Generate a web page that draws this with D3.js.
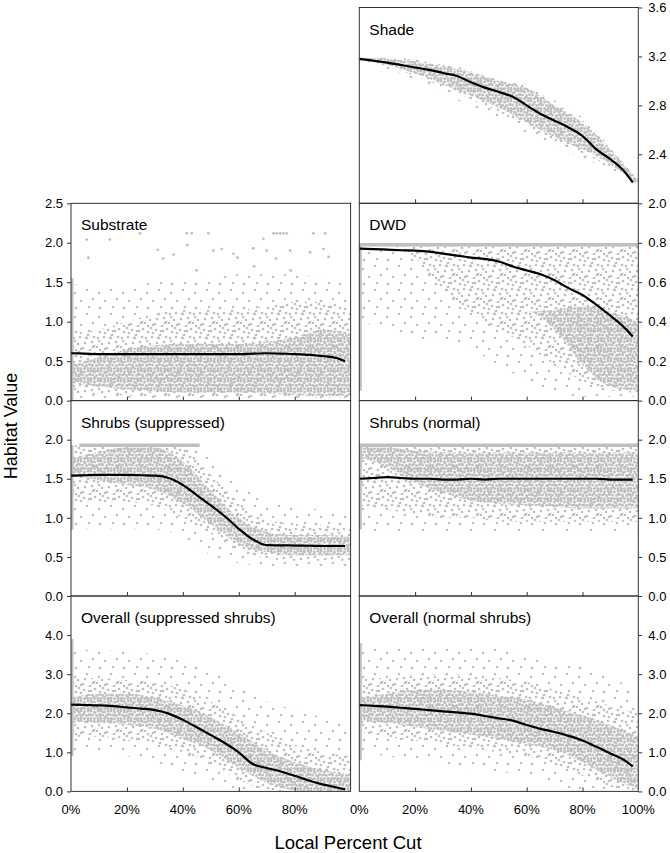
<!DOCTYPE html>
<html><head><meta charset="utf-8">
<script src="https://cdn.jsdelivr.net/npm/d3@7"></script>
<style>
body{margin:0;background:#fff}
svg{display:block}
text{font-family:"Liberation Sans",Arial,sans-serif;fill:#000}
</style>
</head><body>
<svg id="chart" width="670" height="853"></svg>
<script>
// ---------------- DATA ----------------
const gridX  = [0,10,20,30,40,50,60,70,80,90,100];           // % cut, cloud envelope positions
const trendX = [0,5,10,15,20,25,30,35,40,45,50,55,60,65,70,75,80,85,90,95,98];
const xTickValues = [0,20,40,60,80,100];

// Shade
const shadeTicks = [2.0,2.4,2.8,3.2,3.6];
const shadeTrend = [3.18,3.165,3.15,3.13,3.11,3.09,3.065,3.04,2.99,2.945,2.91,2.87,2.80,2.73,2.675,2.62,2.55,2.44,2.36,2.26,2.17];
const shadeSparseLo = [3.16,3.10,3.00,2.90,2.79,2.70,2.57,2.46,2.37,2.27,2.14];
const shadeSparseHi = [3.19,3.19,3.18,3.14,3.09,3.02,2.97,2.84,2.70,2.46,2.20];
const shadeMidLo    = [3.17,3.12,3.04,2.95,2.85,2.75,2.63,2.51,2.41,2.30,2.15];
const shadeMidHi    = [3.19,3.19,3.17,3.13,3.08,3.01,2.96,2.82,2.68,2.45,2.19];
const shadeDenseLo  = [3.17,3.13,3.06,2.97,2.88,2.78,2.66,2.54,2.44,2.32,2.15];
const shadeDenseHi  = [3.19,3.18,3.16,3.12,3.07,3.00,2.94,2.80,2.66,2.44,2.19];

// Substrate
const substrateTicks = [0.0,0.5,1.0,1.5,2.0,2.5];
const substrateTrend = [0.60,0.595,0.59,0.59,0.59,0.59,0.59,0.59,0.59,0.59,0.59,0.59,0.59,0.595,0.60,0.595,0.59,0.58,0.565,0.54,0.50];
const substrateSparseLo = [0.03,0.03,0.03,0.03,0.03,0.03,0.03,0.03,0.03,0.03,0.03];
const substrateSparseHi = [1.50,1.40,1.45,1.50,1.55,1.55,1.60,1.60,1.60,1.55,1.45];
const substrateMidLo    = [0.10,0.08,0.06,0.05,0.05,0.05,0.05,0.05,0.05,0.04,0.04];
const substrateMidHi    = [0.85,0.90,1.00,1.10,1.15,1.15,1.15,1.20,1.25,1.25,1.15];
const substrateDenseLo  = [0.22,0.18,0.14,0.12,0.10,0.10,0.10,0.09,0.07,0.06,0.06];
const substrateDenseHi  = [0.45,0.55,0.65,0.70,0.72,0.72,0.72,0.75,0.80,0.90,0.85];
const substrateOutX = [5.6,6.2,13.9,31,33,36.7,41.6,50.9,53.9,58.1,59.5,65.2,68.8,70,73.3,78.4,85.5,90.3,92.1,65.5,78.6,44.9,
                       24.7,41.4,43.2,49.1,72.4,73.6,74.8,76,77.2,86.7,90.9];
const substrateOutY = [2.04,1.81,2.04,1.91,1.80,1.85,1.97,1.90,1.92,1.86,1.81,1.93,2.05,1.90,1.80,1.90,1.88,1.92,1.82,1.70,1.65,1.65,
                       2.12,2.12,2.12,2.12,2.12,2.12,2.12,2.12,2.12,2.12,2.12];

// DWD
const dwdTicks = [0.0,0.2,0.4,0.6,0.8];
const dwdTrend = [0.77,0.768,0.765,0.762,0.76,0.755,0.745,0.735,0.725,0.718,0.705,0.68,0.66,0.64,0.61,0.57,0.535,0.485,0.43,0.37,0.325];
const dwdSparseLo = [0.40,0.36,0.32,0.30,0.26,0.18,0.10,0.04,0.02,0.02,0.02];
const dwdSparseHi = [0.79,0.79,0.79,0.79,0.79,0.79,0.79,0.79,0.79,0.79,0.79];
const dwdMidLo    = [0.79,0.79,0.72,0.56,0.44,0.36,0.28,0.18,0.10,0.05,0.04];
const dwdMidHi    = [0.79,0.79,0.79,0.79,0.79,0.79,0.79,0.79,0.79,0.79,0.79];
const dwdDenseLo  = [0.45,0.45,0.45,0.45,0.45,0.45,0.45,0.36,0.18,0.07,0.05];
const dwdDenseHi  = [0.45,0.45,0.45,0.45,0.45,0.45,0.45,0.46,0.48,0.45,0.40];

// Shrubs (suppressed)
const shrubsSTicks = [0.0,0.5,1.0,1.5,2.0];
const shrubsSTrend = [1.54,1.545,1.55,1.55,1.55,1.545,1.54,1.51,1.42,1.29,1.16,1.02,0.86,0.725,0.65,0.648,0.645,0.643,0.64,0.64,0.64];
const shrubsSSparseLo = [0.85,0.85,0.85,0.85,0.75,0.52,0.42,0.38,0.35,0.35,0.35];
const shrubsSSparseHi = [1.93,1.93,1.93,1.93,1.93,1.75,1.45,1.20,1.15,1.10,1.05];
const shrubsSMidLo    = [1.20,1.20,1.20,1.15,1.00,0.80,0.58,0.48,0.45,0.45,0.45];
const shrubsSMidHi    = [1.93,1.93,1.93,1.93,1.90,1.55,1.20,0.98,0.92,0.90,0.88];
const shrubsSDenseLo  = [1.55,1.48,1.42,1.36,1.18,0.92,0.66,0.56,0.52,0.52,0.52];
const shrubsSDenseHi  = [1.75,1.85,1.90,1.90,1.72,1.35,1.00,0.82,0.78,0.78,0.76];

// Shrubs (normal)
const shrubsNTicks = [0.0,0.5,1.0,1.5,2.0];
const shrubsNTrend = [1.50,1.51,1.52,1.51,1.50,1.50,1.49,1.49,1.50,1.49,1.50,1.50,1.50,1.50,1.50,1.50,1.50,1.50,1.49,1.49,1.49];
const shrubsNSparseLo = [0.82,0.82,0.82,0.82,0.82,0.82,0.82,0.82,0.82,0.82,0.82];
const shrubsNSparseHi = [1.93,1.93,1.93,1.93,1.93,1.93,1.93,1.93,1.93,1.93,1.93];
const shrubsNMidLo    = [1.15,1.10,1.05,1.00,1.00,0.95,0.95,0.95,0.95,0.95,0.95];
const shrubsNMidHi    = [1.93,1.93,1.93,1.93,1.93,1.93,1.93,1.93,1.93,1.93,1.93];
const shrubsNDenseLo  = [1.78,1.65,1.45,1.32,1.22,1.18,1.16,1.14,1.12,1.12,1.12];
const shrubsNDenseHi  = [1.90,1.90,1.86,1.84,1.84,1.84,1.84,1.84,1.84,1.84,1.84];

// Overall (suppressed shrubs)
const overallSTicks = [0.0,1.0,2.0,3.0,4.0];
const overallSTrend = [2.22,2.21,2.20,2.18,2.15,2.12,2.08,1.99,1.83,1.64,1.44,1.24,1.00,0.70,0.60,0.51,0.40,0.28,0.18,0.10,0.05];
const overallSSparseLo = [1.00,1.00,0.90,0.75,0.50,0.25,0.00,0.00,0.00,0.00,0.00];
const overallSSparseHi = [3.70,3.60,3.60,3.50,3.40,3.10,2.70,2.30,2.10,1.90,1.80];
const overallSMidLo    = [1.40,1.40,1.30,1.20,1.00,0.70,0.30,0.05,0.00,0.00,0.00];
const overallSMidHi    = [2.90,2.90,2.85,2.80,2.60,2.30,1.90,1.50,1.20,1.00,0.90];
const overallSDenseLo  = [1.80,1.75,1.70,1.60,1.35,1.05,0.60,0.22,0.03,0.00,0.00];
const overallSDenseHi  = [2.40,2.50,2.50,2.40,2.20,1.90,1.50,1.05,0.75,0.55,0.45];

// Overall (normal shrubs)
const overallNTicks = [0.0,1.0,2.0,3.0,4.0];
const overallNTrend = [2.21,2.19,2.17,2.14,2.11,2.08,2.05,2.02,1.99,1.93,1.87,1.81,1.70,1.60,1.52,1.42,1.30,1.14,0.97,0.80,0.64];
const overallNSparseLo = [1.00,0.90,0.80,0.70,0.60,0.50,0.40,0.20,0.00,0.00,0.00];
const overallNSparseHi = [3.70,3.70,3.70,3.70,3.70,3.70,3.50,3.30,3.20,2.90,2.60];
const overallNMidLo    = [1.50,1.40,1.30,1.20,1.10,1.00,0.90,0.70,0.40,0.10,0.00];
const overallNMidHi    = [2.90,2.90,3.00,3.00,3.00,2.90,2.80,2.60,2.40,2.20,2.00];
const overallNDenseLo  = [1.80,1.75,1.65,1.55,1.45,1.35,1.20,1.05,0.75,0.35,0.05];
const overallNDenseHi  = [2.40,2.50,2.60,2.60,2.55,2.45,2.35,2.15,1.95,1.70,1.40];

// Saturated rows of points (value, from %, to %) and the 0 % column (lo, hi)
const capRows = {dwd:[0.79,0,100], shrubsS:[1.93,3,46], shrubsN:[1.93,0,100]};
const edgeCols = {substrate:[0.0,1.55], dwd:[0.05,0.79], shrubsS:[0.85,1.93], shrubsN:[0.85,1.93], overallS:[0.9,3.9], overallN:[0.8,3.8]};

// ---------------- LAYOUT ----------------
const colX = [[71,350.6],[359.3,638.3]];
const rowY = [7.5,203.3,400.6,596,791.4];
const DOT = "#bfbfbf";

const panels = [
  {key:"shade", title:"Shade", col:1, row:0, domain:[2.0,3.6], ticks:shadeTicks, trend:shadeTrend,
   bands:[[shadeSparseLo,shadeSparseHi],[shadeMidLo,shadeMidHi],[shadeDenseLo,shadeDenseHi]]},
  {key:"substrate", title:"Substrate", col:0, row:1, domain:[0,2.5], ticks:substrateTicks, trend:substrateTrend,
   bands:[[substrateSparseLo,substrateSparseHi],[substrateMidLo,substrateMidHi],[substrateDenseLo,substrateDenseHi]],
   outX:substrateOutX, outY:substrateOutY},
  {key:"dwd", title:"DWD", col:1, row:1, domain:[0,1], ticks:dwdTicks, trend:dwdTrend,
   bands:[[dwdSparseLo,dwdSparseHi],[dwdMidLo,dwdMidHi],[dwdDenseLo,dwdDenseHi]]},
  {key:"shrubsS", title:"Shrubs (suppressed)", col:0, row:2, domain:[0,2.5], ticks:shrubsSTicks, trend:shrubsSTrend,
   bands:[[shrubsSSparseLo,shrubsSSparseHi],[shrubsSMidLo,shrubsSMidHi],[shrubsSDenseLo,shrubsSDenseHi]]},
  {key:"shrubsN", title:"Shrubs (normal)", col:1, row:2, domain:[0,2.5], ticks:shrubsNTicks, trend:shrubsNTrend,
   bands:[[shrubsNSparseLo,shrubsNSparseHi],[shrubsNMidLo,shrubsNMidHi],[shrubsNDenseLo,shrubsNDenseHi]]},
  {key:"overallS", title:"Overall (suppressed shrubs)", col:0, row:3, domain:[0,5], ticks:overallSTicks, trend:overallSTrend,
   bands:[[overallSSparseLo,overallSSparseHi],[overallSMidLo,overallSMidHi],[overallSDenseLo,overallSDenseHi]]},
  {key:"overallN", title:"Overall (normal shrubs)", col:1, row:3, domain:[0,5], ticks:overallNTicks, trend:overallNTrend,
   bands:[[overallNSparseLo,overallNSparseHi],[overallNMidLo,overallNMidHi],[overallNDenseLo,overallNDenseHi]]}
];

const svg = d3.select("#chart");
const defs = svg.append("defs");

// dot textures (style only); dots are wrapped across tile edges
const textures = [
  {id:"p0", size:24, r:1.3, dots:[[3,5],[15,2],[9,13],[21,11],[4,20],[17,19]]},
  {id:"p1", size:24, r:1.35, dots:[[8,1],[20,6],[1,11],[13,7],[23,17],[12,18],[7,16],[18,14],[2,2],[16,23],[22,1],[6,8],[11,12],[19,19],[4,14],[14,2],[9,21],[22,10]]},
  {id:"p2", size:10, r:1.5, dots:[[1,1],[4.5,2],[8,1],[2.5,5],[6.5,5.5],[9.5,4.5],[1,8.5],[4.5,8.5],[8,8.5]]}
];
textures.forEach(t => {
  const p = defs.append("pattern").attr("id", t.id).attr("patternUnits","userSpaceOnUse")
    .attr("width", t.size).attr("height", t.size);
  const wrapped = [];
  t.dots.forEach(d => [-1,0,1].forEach(i => [-1,0,1].forEach(j => wrapped.push([d[0]+i*t.size, d[1]+j*t.size]))));
  p.selectAll("circle").data(wrapped).join("circle")
    .attr("cx", d => d[0]).attr("cy", d => d[1]).attr("r", t.r).attr("fill", DOT);
});

const fmt1 = d3.format(".1f");

panels.forEach(p => {
  const [x0,x1] = colX[p.col];
  const y0 = rowY[p.row], y1 = rowY[p.row+1];
  const x = d3.scaleLinear().domain([0,100]).range([x0,x1]);
  const y = d3.scaleLinear().domain(p.domain).range([y1,y0]);

  defs.append("clipPath").attr("id","clip-"+p.key).append("rect")
    .attr("x",x0).attr("y",y0).attr("width",x1-x0).attr("height",y1-y0);
  const g = svg.append("g").attr("clip-path","url(#clip-"+p.key+")");

  // point cloud envelopes
  p.bands.forEach((b, level) => {
    const area = d3.area()
      .x((d,i) => x(gridX[i]))
      .y0((d,i) => y(b[0][i]))
      .y1((d,i) => y(b[1][i]))
      .curve(d3.curveMonotoneX);
    g.append("path").datum(gridX).attr("d", area).attr("fill","url(#p"+level+")");
  });

  // saturated rows
  if (capRows[p.key]) {
    const c = capRows[p.key];
    g.append("line").attr("x1",x(c[1])).attr("x2",x(c[2])).attr("y1",y(c[0])).attr("y2",y(c[0]))
      .attr("stroke",DOT).attr("stroke-width",3.5);
  }
  // 0% column of points
  if (edgeCols[p.key]) {
    const e = edgeCols[p.key];
    g.append("line").attr("x1",x(0)+1).attr("x2",x(0)+1).attr("y1",y(e[0])).attr("y2",y(e[1]))
      .attr("stroke",DOT).attr("stroke-width",3);
  }
  // individually read points
  if (p.outX) {
    g.selectAll("circle.out").data(p.outX).join("circle").attr("class","out")
      .attr("cx", d => x(d)).attr("cy", (d,i) => y(p.outY[i])).attr("r",1.4).attr("fill",DOT);
  }

  // trend line
  const line = d3.line().x((d,i) => x(trendX[i])).y(d => y(d)).curve(d3.curveMonotoneX);
  g.append("path").datum(p.trend).attr("d", line).attr("fill","none")
    .attr("stroke","#000").attr("stroke-width",2.2).attr("stroke-linejoin","round");

  // frame
  svg.append("rect").attr("x",x0).attr("y",y0).attr("width",x1-x0).attr("height",y1-y0)
    .attr("fill","none").attr("stroke","#333").attr("stroke-width",1);

  // x ticks (inward)
  const xa = svg.append("g").attr("transform","translate(0,"+y1+")")
    .call(d3.axisBottom(x).tickValues([20,40,60,80]).tickSize(-4).tickFormat(""));
  xa.select(".domain").remove();
  xa.selectAll("line").attr("stroke","#333");

  // y axis
  const ya = p.col === 0
    ? svg.append("g").attr("transform","translate("+x0+",0)").call(d3.axisLeft(y).tickValues(p.ticks).tickSize(4).tickPadding(4).tickFormat(fmt1))
    : svg.append("g").attr("transform","translate("+x1+",0)").call(d3.axisRight(y).tickValues(p.ticks).tickSize(4).tickPadding(6).tickFormat(fmt1));
  ya.select(".domain").remove();
  ya.selectAll("line").attr("stroke","#333");
  ya.selectAll("text").attr("font-size",13).attr("font-family",'"Liberation Sans",Arial,sans-serif').attr("fill","#000");

  // panel title
  svg.append("text").attr("x",x0+10).attr("y",y0+27).attr("font-size",15.5).text(p.title);

  // bottom labels
  if (p.row === 3) {
    const labs = p.col === 0 ? xTickValues.filter(v => v < 100) : xTickValues;
    svg.append("g").selectAll("text").data(labs).join("text")
      .attr("x", d => x(d)).attr("y", y1+22.5).attr("text-anchor","middle").attr("font-size",13)
      .text(d => d + "%");
  }
});

// axis titles
svg.append("text").attr("x",348).attr("y",849).attr("text-anchor","middle").attr("font-size",18.5).text("Local Percent Cut");
svg.append("text").attr("transform","translate(17,426) rotate(-90)").attr("text-anchor","middle").attr("font-size",18).text("Habitat Value");
</script>
</body></html>
